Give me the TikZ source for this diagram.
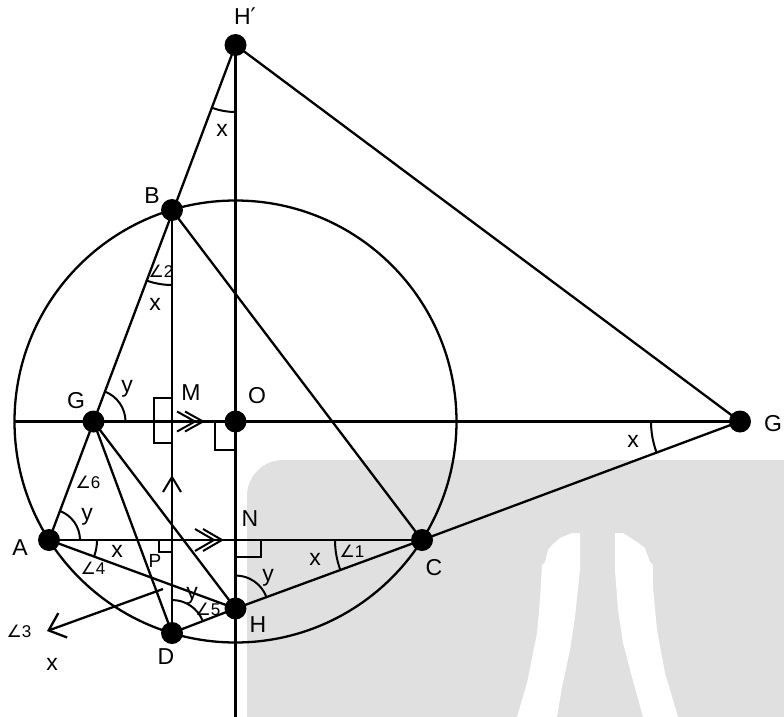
\documentclass[tikz,border=0pt]{standalone}
\usepackage{fontspec}
\setmainfont{Liberation Sans}
\newfontfamily\symf{DejaVu Sans}
\usetikzlibrary{arrows.meta}
\definecolor{wm}{HTML}{E0E0E0}
\begin{document}
\begin{tikzpicture}[x=1pt,y=-1pt,
  ln/.style={line width=2.3pt},
  thin/.style={line width=2pt},
  dot/.style={circle,fill=black,inner sep=0pt,minimum size=22pt},
  lbl/.style={inner sep=0pt,font=\fontsize{23}{27}\selectfont},
  albl/.style={inner sep=0pt,font=\fontsize{17}{20}\selectfont}]
\useasboundingbox (0,0) rectangle (784,717);
% watermark background
\fill[wm] (247,717) -- (247,496) arc[start angle=180,end angle=90,radius=36pt] -- (784,460) -- (784,717) -- cycle;
\fill[white] (572,533) -- (580,533) -- (580,570) -- (575,617) -- (570,650) -- (562,687) -- (557,717)
  -- (517,717) -- (527,683) -- (537,633) -- (540,600) -- (542,565) -- (545,562) -- (548,550)
  -- (552,545) -- (560,538) -- cycle;
\fill[white] (615,533) -- (623,533) -- (637,542) -- (645,548) -- (650,562) -- (653,565) -- (653,587)
  -- (657,630) -- (665,673) -- (678,717) -- (643,717) -- (632,677) -- (623,643) -- (618,610)
  -- (615,570) -- cycle;
% points
\coordinate (O) at (235.5,421.5);
\coordinate (Hp) at (235.5,45);
\coordinate (B) at (172,210);
\coordinate (G) at (93.5,421.5);
\coordinate (A) at (49,540);
\coordinate (C) at (422,540);
\coordinate (D) at (172,633);
\coordinate (H) at (235.5,608.5);
\coordinate (Gp) at (740,421.5);
\coordinate (L) at (14.5,421.5);
\coordinate (Bot) at (235.5,717);
\coordinate (S3) at (163,589);
\coordinate (E3) at (47,631);
% circle and lines
\draw[ln] (O) circle[radius=221pt];
\draw[ln] (Hp) -- (A);
\draw[ln] (Hp) -- (Gp);
\draw[ln] (L) -- (Gp);
\draw[ln] (Hp) -- (Bot);
\draw[ln] (B) -- (C);
\draw[ln] (B) -- (D);
\draw[ln] (A) -- (C);
\draw[ln] (G) -- (D);
\draw[ln] (G) -- (H);
\draw[ln] (A) -- (H);
\draw[ln] (D) -- (H);
\draw[ln] (H) -- (C) -- (Gp);
\draw[ln,-{Straight Barb[length=15pt,width=26pt]}] (S3) -- (E3);
% right angle marks
\draw[thin] (172,398) -- (154,398) -- (154,443) -- (172,443);
\draw[thin] (215,421.5) -- (215,450) -- (235.5,450);
\draw[thin] (159,540) -- (159,552) -- (172,552);
\draw[thin] (235.5,557) -- (261,557) -- (261,540);
% parallel marks
\draw[thin] (177,411.5) -- (195,421.5) -- (177,431.5);
\draw[thin] (185,411.5) -- (203,421.5) -- (185,431.5);
\draw[thin] (195,529) -- (214,540) -- (195,551);
\draw[thin] (203,529) -- (222,540) -- (203,551);
\draw[thin] (163,492) -- (172,477) -- (181,492);
% angle arcs
\draw[thin] (Hp) ++(249:67pt) arc[start angle=249,end angle=270,radius=67pt];
\draw[thin] (B) ++(249.6:75pt) arc[start angle=249.6,end angle=270,radius=75pt];
\draw[thin] (G) ++(0:32pt) arc[start angle=0,end angle=69.6,radius=32pt];
\draw[thin] (A) ++(0:31pt) arc[start angle=0,end angle=69.4,radius=31pt];
\draw[thin] (A) ++(-20:48pt) arc[start angle=-20,end angle=0,radius=48pt];
\draw[thin] (C) ++(180:87pt) arc[start angle=180,end angle=200,radius=87pt];
\draw[thin] (H) ++(20:33pt) arc[start angle=20,end angle=90,radius=33pt];
\draw[thin] (D) ++(21.5:33pt) arc[start angle=21.5,end angle=90,radius=33pt];
\draw[thin] (Gp) ++(180:89pt) arc[start angle=180,end angle=200.4,radius=89pt];
% dots
\foreach \p in {Hp,B,G,O,A,C,H,D,Gp} \node[dot] (d\p) at (\p) {};
% labels
\node[lbl] (lHp) at (245,16) {H{\symf ′}};
\node[lbl] (lB) at (152,196) {B};
\node[lbl] (lG) at (76,401) {G};
\node[lbl] (lM) at (191,393) {M};
\node[lbl] (lO) at (257,396) {O};
\node[lbl] (lGp) at (773,424) {G};
\node[lbl] (lA) at (20,548) {A};
\node[lbl] (lN) at (250,519) {N};
\node[lbl] (lC) at (434,568) {C};
\node[lbl] (lH) at (258,625) {H};
\node[lbl] (lD) at (166,657) {D};
\node[albl,font=\fontsize{19}{22}\selectfont] (lP) at (155,561) {P};
\node[lbl] (xH) at (222,130) {x};
\node[lbl] (xB) at (155,304) {x};
\node[lbl] (yG) at (127,389) {y};
\node[lbl] (yA) at (87,517) {y};
\node[lbl] (xA) at (117,551) {x};
\node[lbl] (xC) at (315,559) {x};
\node[lbl] (yH) at (268,578) {y};
\node[lbl] (yD) at (192,596) {y};
\node[lbl] (xGp) at (633,441) {x};
\node[lbl] (x3) at (52,664) {x};
\node[albl] (a2) at (161,271) {{\symf ∠}2};
\node[albl] (a6) at (88,482) {{\symf ∠}6};
\node[albl] (a4) at (93,568) {{\symf ∠}4};
\node[albl] (a5) at (208,609) {{\symf ∠}5};
\node[albl] (a1) at (352,551) {{\symf ∠}1};
\node[albl] (a3) at (19,631) {{\symf ∠}3};
\end{tikzpicture}
\end{document}
